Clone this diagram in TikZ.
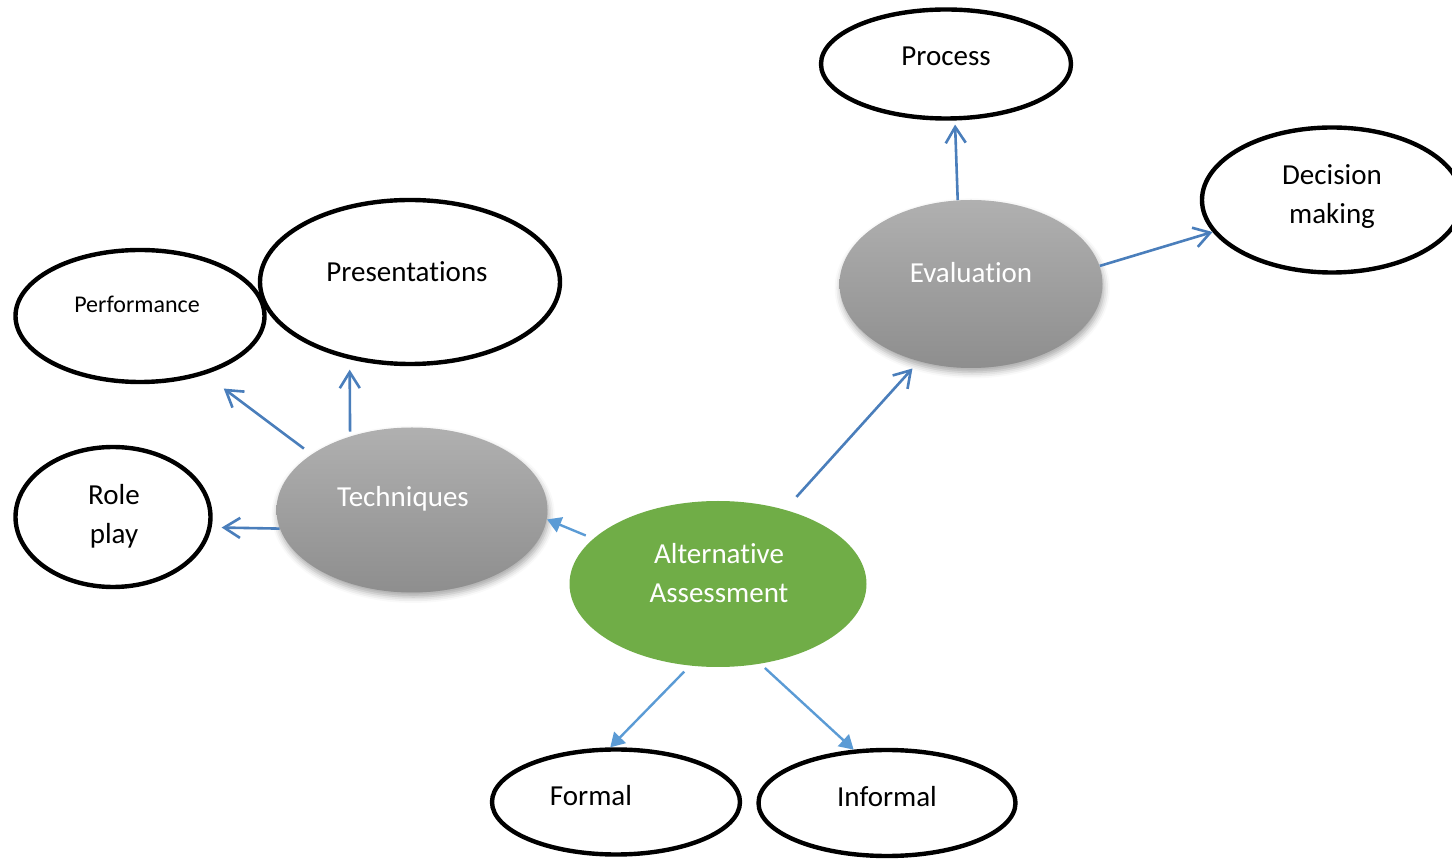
\documentclass[tikz,border=0pt]{standalone}
\usepackage{fontspec}
\setmainfont{Carlito}[Ligatures={NoCommon,NoRequired,NoContextual}, RawFeature={-liga;-clig;-calt}]
\usetikzlibrary{shapes.geometric,arrows.meta,shadows.blur}
\definecolor{linkdark}{HTML}{4A7EBB}
\definecolor{linklight}{HTML}{5B9BD5}
\definecolor{rootgreen}{HTML}{70AD47}
\definecolor{hubtop}{HTML}{B0B0B0}
\definecolor{hubbot}{HTML}{8E8E8E}

\begin{document}
\begin{tikzpicture}[x=0.5pt,y=-0.5pt,
  leaf/.style={ellipse, draw=black, line width=2.2pt, fill=white, inner sep=0pt},
  hub/.style={ellipse, draw=none, inner sep=0pt, top color=hubtop, bottom color=hubbot,
    blur shadow={shadow xshift=0.6pt, shadow yshift=-2.2pt, shadow blur radius=3pt, shadow opacity=35}},
  root/.style={ellipse, draw=none, inner sep=0pt, fill=rootgreen},
  lbl/.style={font=\fontsize{14.5}{19.5}\selectfont, align=center, inner sep=0pt},
  smalllbl/.style={lbl, font=\fontsize{12}{14}\selectfont},
  wlbl/.style={lbl, text=white},
  openarr/.style={draw=linkdark, line width=1.3pt, -{Straight Barb[length=8pt,width=10pt]}},
  fillarr/.style={draw=linklight, line width=1.2pt, -{Triangle[length=7pt,width=8pt]}},
]
\useasboundingbox (0,0) rectangle (1452,860);

% ellipses
\node[leaf, minimum width=125pt, minimum height=54.5pt] (proc) at (946,64) {};
\node[leaf, minimum width=130pt, minimum height=72.5pt] (dec) at (1332,200) {};
\node[hub, minimum width=131.5pt, minimum height=84pt] (eval) at (971,284) {};
\node[leaf, minimum width=150pt, minimum height=82pt] (pres) at (410,282) {};
\node[leaf, minimum width=124.5pt, minimum height=66pt] (perf) at (140,316) {};
\node[leaf, minimum width=97.5pt, minimum height=70pt] (role) at (113,517) {};
\node[hub, minimum width=135.5pt, minimum height=82.5pt] (tech) at (412,510) {};
\node[root, minimum width=148.5pt, minimum height=83pt] (aa) at (718,584) {};
\node[leaf, minimum width=124pt, minimum height=52.5pt] (formal) at (616,802) {};
\node[leaf, minimum width=128.5pt, minimum height=53pt] (informal) at (887,803) {};

% texts
\node[lbl] (tProc) at (946,56) {Process};
\node[lbl] (tDec) at (1332,197) {Decision\\making};
\node[wlbl] (tEval) at (971,273) {Evaluation};
\node[lbl] (tPres) at (407,272) {Presentations};
\node[smalllbl] (tPerf) at (137,304) {Performance};
\node[lbl] (tRole) at (114,516) {Role\\play};
\node[wlbl] (tTech) at (403,499) {Techniques};
\node[wlbl] (tAA) at (719,573) {Alternative\\Assessment};
\node[lbl] (tForm) at (591,796) {Formal};
\node[lbl] (tInf) at (887,797) {Informal};

% connectors
\draw[fillarr, shorten <=4pt] (aa.160) -- (tech.-4);
\draw[openarr, shorten <=8.5pt, shorten >=4.7pt] (aa.48.5) -- (eval.-124);
\draw[fillarr, shorten <=4pt] (aa.-109) -- (formal.96);
\draw[fillarr, shorten <=3pt] (aa.-62) -- (informal.122);
\draw[openarr, shorten <=2.3pt, shorten >=5.2pt] (tech.130.5) -- (pres.-128.5);
\draw[openarr, shorten <=4.7pt, shorten >=11.7pt] (tech.151) -- (perf.-42);
\draw[openarr, shorten >=5pt] (tech.-172) -- (role.-6);
\draw[openarr, shorten >=2pt] (eval.99) -- (proc.-81);
\draw[openarr] (eval.8) -- (dec.-165);
\end{tikzpicture}
\end{document}
